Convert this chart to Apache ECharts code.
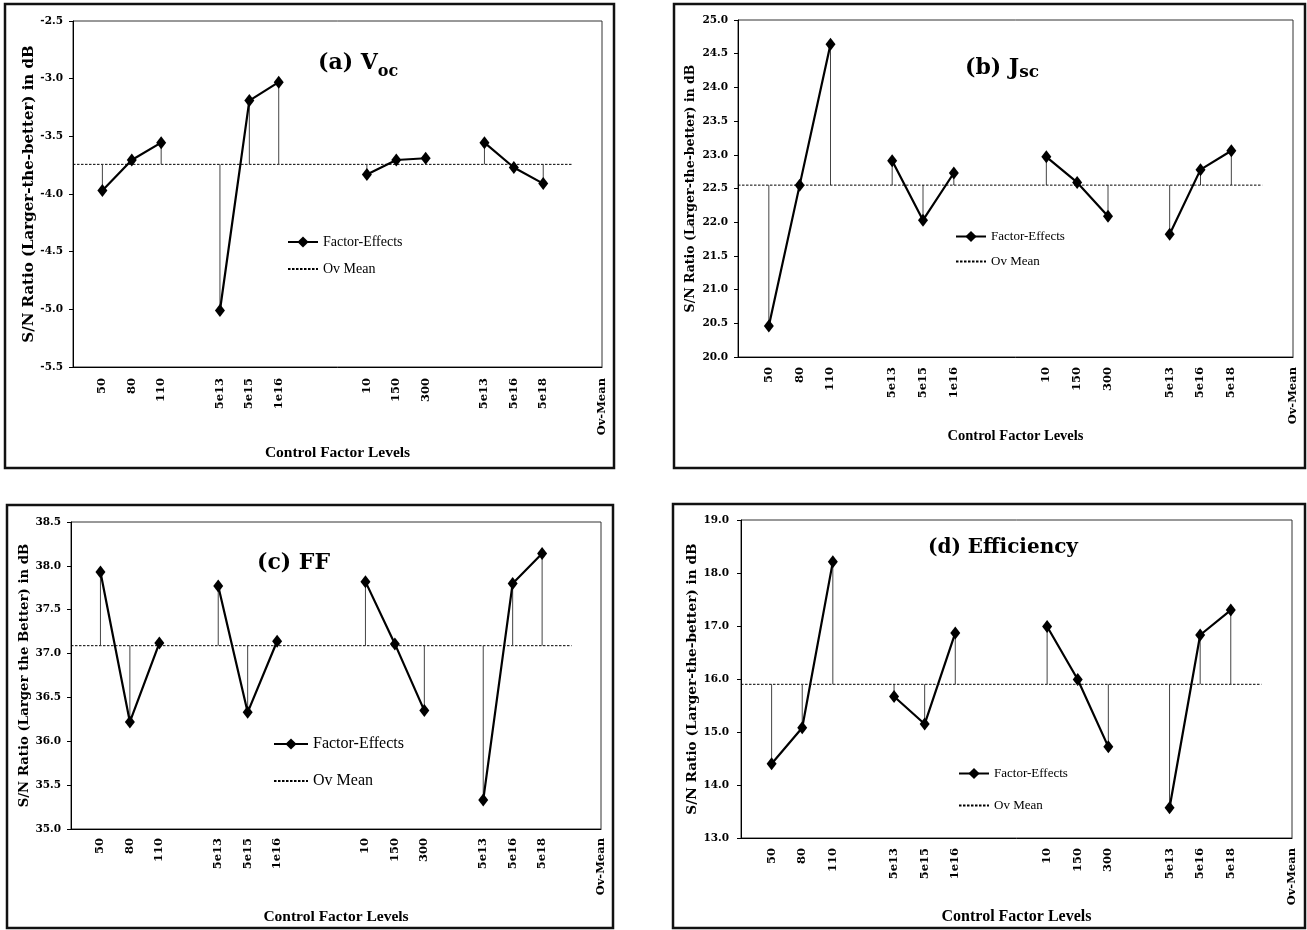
<!DOCTYPE html>
<html>
<head>
<meta charset="utf-8">
<script src="https://cdn.jsdelivr.net/npm/echarts@6/dist/echarts.min.js"></script>
<style>
html,body{margin:0;padding:0;background:#fff;}
#chart{width:1307px;height:930px;}
</style>
</head>
<body>
<div id="chart"></div>
<script>
// ---- Data ----
const xLabels = ['', '50', '80', '110', '', '5e13', '5e15', '1e16', '', '', '10', '150', '300', '', '5e13', '5e16', '5e18', '', 'Ov-Mean'];

const vocEffects = [null, -3.97, -3.705, -3.555, null, -5.01, -3.19, -3.03, null, null, -3.83, -3.705, -3.69, null, -3.555, -3.77, -3.91, null, null];
const vocMean = -3.743;

const jscEffects = [null, 20.46, 22.55, 24.64, null, 22.91, 22.03, 22.73, null, null, 22.97, 22.59, 22.09, null, 21.82, 22.78, 23.06, null, null];
const jscMean = 22.55;

const ffEffects = [null, 37.93, 36.22, 37.12, null, 37.77, 36.33, 37.14, null, null, 37.82, 37.11, 36.35, null, 35.33, 37.80, 38.14, null, null];
const ffMean = 37.09;

const effEffects = [null, 14.40, 15.08, 18.21, null, 15.67, 15.15, 16.87, null, null, 16.99, 15.99, 14.72, null, 13.57, 16.83, 17.30, null, null];
const effMean = 15.90;

const panelTitles = ['(a) V', '(b) J', '(c) FF', '(d) Efficiency'];
const titleSubs = ['oc', 'sc', '', ''];
const yNames = ['S/N Ratio (Larger-the-better) in dB', 'S/N Ratio (Larger-the-better) in dB', 'S/N Ratio (Larger the Better) in dB', 'S/N Ratio (Larger-the-better) in dB'];
const xName = 'Control Factor Levels';
const yRanges = [[-5.5, -2.5, 0.5], [20, 25, 0.5], [35, 38.5, 0.5], [13, 19, 1]];

// ---- Layout / style ----
const SERIF_B = 'DejaVu Serif';
const LEG_FONT = 'Liberation Serif';
const panels = [
  { eff: vocEffects, mean: vocMean, grid: {left: 73, top: 21, width: 529, height: 346},
    frame: [5, 4, 609, 464], xGap: 78, yGap: 33, yNameSize: 15, xNameSize: 15.5, xLabMargin: 11, yLabMargin: 10,
    legend: {left: 287, top: 235, itemGap: 13, itemWidth: 30, fontSize: 14},
    title: {left: 318, top: 52, size: 22, subSize: 16} },
  { eff: jscEffects, mean: jscMean, grid: {left: 738, top: 20, width: 555, height: 337},
    frame: [674, 4, 631, 464], xGap: 72, yGap: 41, yNameSize: 12.5, xNameSize: 14.5, xLabMargin: 10, yLabMargin: 10,
    legend: {left: 955, top: 230, itemGap: 12, itemWidth: 30, fontSize: 13},
    title: {left: 965, top: 57, size: 22, subSize: 17} },
  { eff: ffEffects, mean: ffMean, grid: {left: 71, top: 522, width: 530, height: 307},
    frame: [7, 505, 606, 423], xGap: 80, yGap: 32, yNameSize: 13.3, xNameSize: 15.5, xLabMargin: 9, yLabMargin: 10,
    legend: {left: 273, top: 736, itemGap: 21, itemWidth: 34, fontSize: 16},
    title: {left: 257, top: 552, size: 22, subSize: 16} },
  { eff: effEffects, mean: effMean, grid: {left: 741, top: 520, width: 551, height: 318},
    frame: [673, 504, 632, 424], xGap: 69, yGap: 42, yNameSize: 13.7, xNameSize: 16, xLabMargin: 10, yLabMargin: 12,
    legend: {left: 958, top: 767, itemGap: 19, itemWidth: 30, fontSize: 13},
    title: {left: 928, top: 538, size: 20, subSize: 16} }
];

const grids = [], xAxes = [], yAxes = [], series = [], legends = [], titles = [], graphics = [];

panels.forEach((p, k) => {
  grids.push(Object.assign({show: true, borderColor: '#333', borderWidth: 1, containLabel: false}, p.grid));
  xAxes.push({
    type: 'category', gridIndex: k, data: xLabels, boundaryGap: false,
    axisLine: {lineStyle: {color: '#000', width: 1}},
    axisTick: {show: false},
    axisLabel: {interval: 0, rotate: 90, margin: p.xLabMargin, color: '#000', fontFamily: SERIF_B, fontWeight: 'bold', fontSize: 11.5},
    splitLine: {show: false},
    name: xName, nameLocation: 'middle', nameGap: p.xGap,
    nameTextStyle: {color: '#000', fontFamily: LEG_FONT, fontWeight: 'bold', fontSize: p.xNameSize}
  });
  const r = yRanges[k];
  yAxes.push({
    type: 'value', gridIndex: k, min: r[0], max: r[1], interval: r[2],
    axisLine: {show: true, lineStyle: {color: '#000', width: 1}},
    axisTick: {show: true, inside: false, length: 4, lineStyle: {color: '#000'}},
    axisLabel: {margin: p.yLabMargin, color: '#000', fontFamily: SERIF_B, fontWeight: 'bold', fontSize: 10.5,
      formatter: v => v.toFixed(1)},
    splitLine: {show: false},
    name: yNames[k], nameLocation: 'middle', nameGap: p.yGap, nameRotate: 90,
    nameTextStyle: {color: '#000', fontFamily: SERIF_B, fontWeight: 'bold', fontSize: p.yNameSize}
  });

  const mean = p.mean;
  const dropData = [];
  p.eff.forEach((v, i) => { if (v !== null) dropData.push([i, v]); });
  series.push({
    type: 'custom', name: 'drop', xAxisIndex: k, yAxisIndex: k, silent: true, z: 1,
    data: dropData,
    renderItem: (params, api) => {
      const a = api.coord([api.value(0), mean]);
      const b = api.coord([api.value(0), api.value(1)]);
      return {type: 'line', shape: {x1: a[0], y1: a[1], x2: b[0], y2: b[1]},
        style: {stroke: '#444', lineWidth: 1}};
    }
  });
  series.push({
    type: 'line', name: 'Ov Mean', xAxisIndex: k, yAxisIndex: k, z: 2,
    data: xLabels.map((_, i) => (i < xLabels.length - 1 ? mean : null)),
    showSymbol: false, symbol: 'none', silent: true,
    lineStyle: {color: '#000', width: 1, type: [2.5, 1.5]},
    itemStyle: {color: '#000'}
  });
  series.push({
    type: 'line', name: 'Factor-Effects', xAxisIndex: k, yAxisIndex: k, z: 3,
    data: p.eff, connectNulls: false,
    symbol: 'diamond', symbolSize: [10, 13],
    lineStyle: {color: '#000', width: 2.2},
    itemStyle: {color: '#000'}
  });

  legends.push({
    data: ['Factor-Effects', {name: 'Ov Mean', itemStyle: {opacity: 0}}],
    orient: 'vertical', left: p.legend.left, top: p.legend.top,
    itemGap: p.legend.itemGap, itemWidth: p.legend.itemWidth, itemHeight: 14, padding: 0,
    selectedMode: false,
    textStyle: {color: '#000', fontFamily: LEG_FONT, fontSize: p.legend.fontSize}
  });

  const sub = titleSubs[k];
  titles.push({
    left: p.title.left, top: p.title.top, padding: 0,
    text: sub ? '{m|' + panelTitles[k] + '}{s|' + sub + '}' : '{m|' + panelTitles[k] + '}',
    textStyle: {
      rich: {
        m: {fontFamily: SERIF_B, fontWeight: 'bold', fontSize: p.title.size, color: '#000',
            verticalAlign: 'bottom', padding: [0, 0, k === 0 ? 6 : 2, 0]},
        s: {fontFamily: SERIF_B, fontWeight: 'bold', fontSize: p.title.subSize, color: '#000',
            verticalAlign: 'bottom', padding: [0, 0, 0, 0]}
      }
    }
  });

  graphics.push({
    type: 'rect', shape: {x: p.frame[0], y: p.frame[1], width: p.frame[2], height: p.frame[3]},
    style: {fill: 'none', stroke: '#111', lineWidth: 2.5}, silent: true, z: 100
  });
});

const chart = echarts.init(document.getElementById('chart'), null, {renderer: 'canvas'});
chart.setOption({
  backgroundColor: '#fff',
  animation: false,
  title: titles,
  legend: legends,
  grid: grids,
  xAxis: xAxes,
  yAxis: yAxes,
  series: series,
  graphic: graphics
});
</script>
</body>
</html>
